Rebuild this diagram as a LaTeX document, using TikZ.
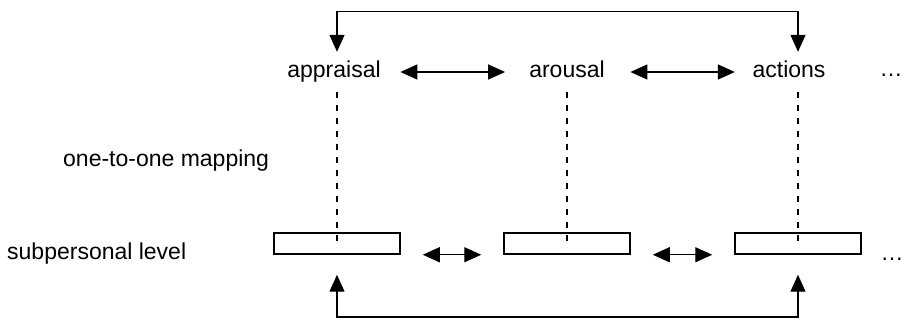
\documentclass[tikz,border=0pt]{standalone}
\usepackage{fontspec}
\setmainfont{Liberation Sans}
\usetikzlibrary{arrows.meta}

\tikzset{
  headtip/.tip={Triangle[length=17pt,width=15pt]},
  biconn/.style={line width=1.4pt, {headtip}-{headtip}},
  mapline/.style={line width=1.1pt, dash pattern=on 6pt off 7pt},
  toplbl/.style={font=\fontsize{23}{27}\selectfont, inner sep=0pt, text height=17pt, text depth=5pt, anchor=base},
  sidelbl/.style={font=\fontsize{23}{27}\selectfont, inner sep=0pt, anchor=base west},
  slot/.style={draw, line width=1.5pt, minimum width=126pt, minimum height=21pt, inner sep=0pt},
}

\begin{document}
\begin{tikzpicture}[x=1pt, y=-1pt]
  \useasboundingbox (0,0) rectangle (906,320);

  % personal level: the three processes
  \node[toplbl] (appr) at (334,78) {appraisal};
  \node[toplbl] (arou) at (567,78) {arousal};
  \node[toplbl] (acti) at (789,78) {actions};
  \node[toplbl] (topdots) at (891,77) {…};

  % subpersonal level: the three mechanisms
  \node[slot] (b1) at (337,243.5) {};
  \node[slot] (b2) at (567,243.5) {};
  \node[slot] (b3) at (798,243.5) {};
  \node[toplbl] (botdots) at (892,261) {…};

  % row labels
  \node[sidelbl] (maplbl) at (63,167) {one-to-one mapping};
  \node[sidelbl] (sublbl) at (7,260) {subpersonal level};

  % loop helpers
  \coordinate (loopTop) at (567,11.5);
  \coordinate (loopBot) at (567,317);

  % one-to-one mapping lines
  \draw[mapline] ([yshift=-9pt]appr.south -| b1.center) -- (b1.center);
  \draw[mapline] ([yshift=-9pt]arou.south -| b2.center) -- (b2.center);
  \draw[mapline] ([yshift=-9pt]acti.south -| b3.center) -- (b3.center);

  % interactions among the processes
  \draw[biconn] ([xshift=19.5pt]appr.east) -- ([xshift=-24pt]arou.west);
  \draw[biconn] ([xshift=25.5pt]arou.east) -- ([xshift=-17.5pt]acti.west);
  \draw[biconn] ([yshift=9pt]appr.north -| b1.center) |- (loopTop) -| ([yshift=9pt]acti.north -| b3.center);

  % interactions among the mechanisms
  \draw[biconn] ([xshift=22pt]b1.south east) -- ([xshift=-22pt]b2.south west);
  \draw[biconn] ([xshift=22pt]b2.south east) -- ([xshift=-22pt]b3.south west);
  \draw[biconn] ([yshift=-20pt]b1.south) |- (loopBot) -| ([yshift=-20pt]b3.south);
\end{tikzpicture}
\end{document}
